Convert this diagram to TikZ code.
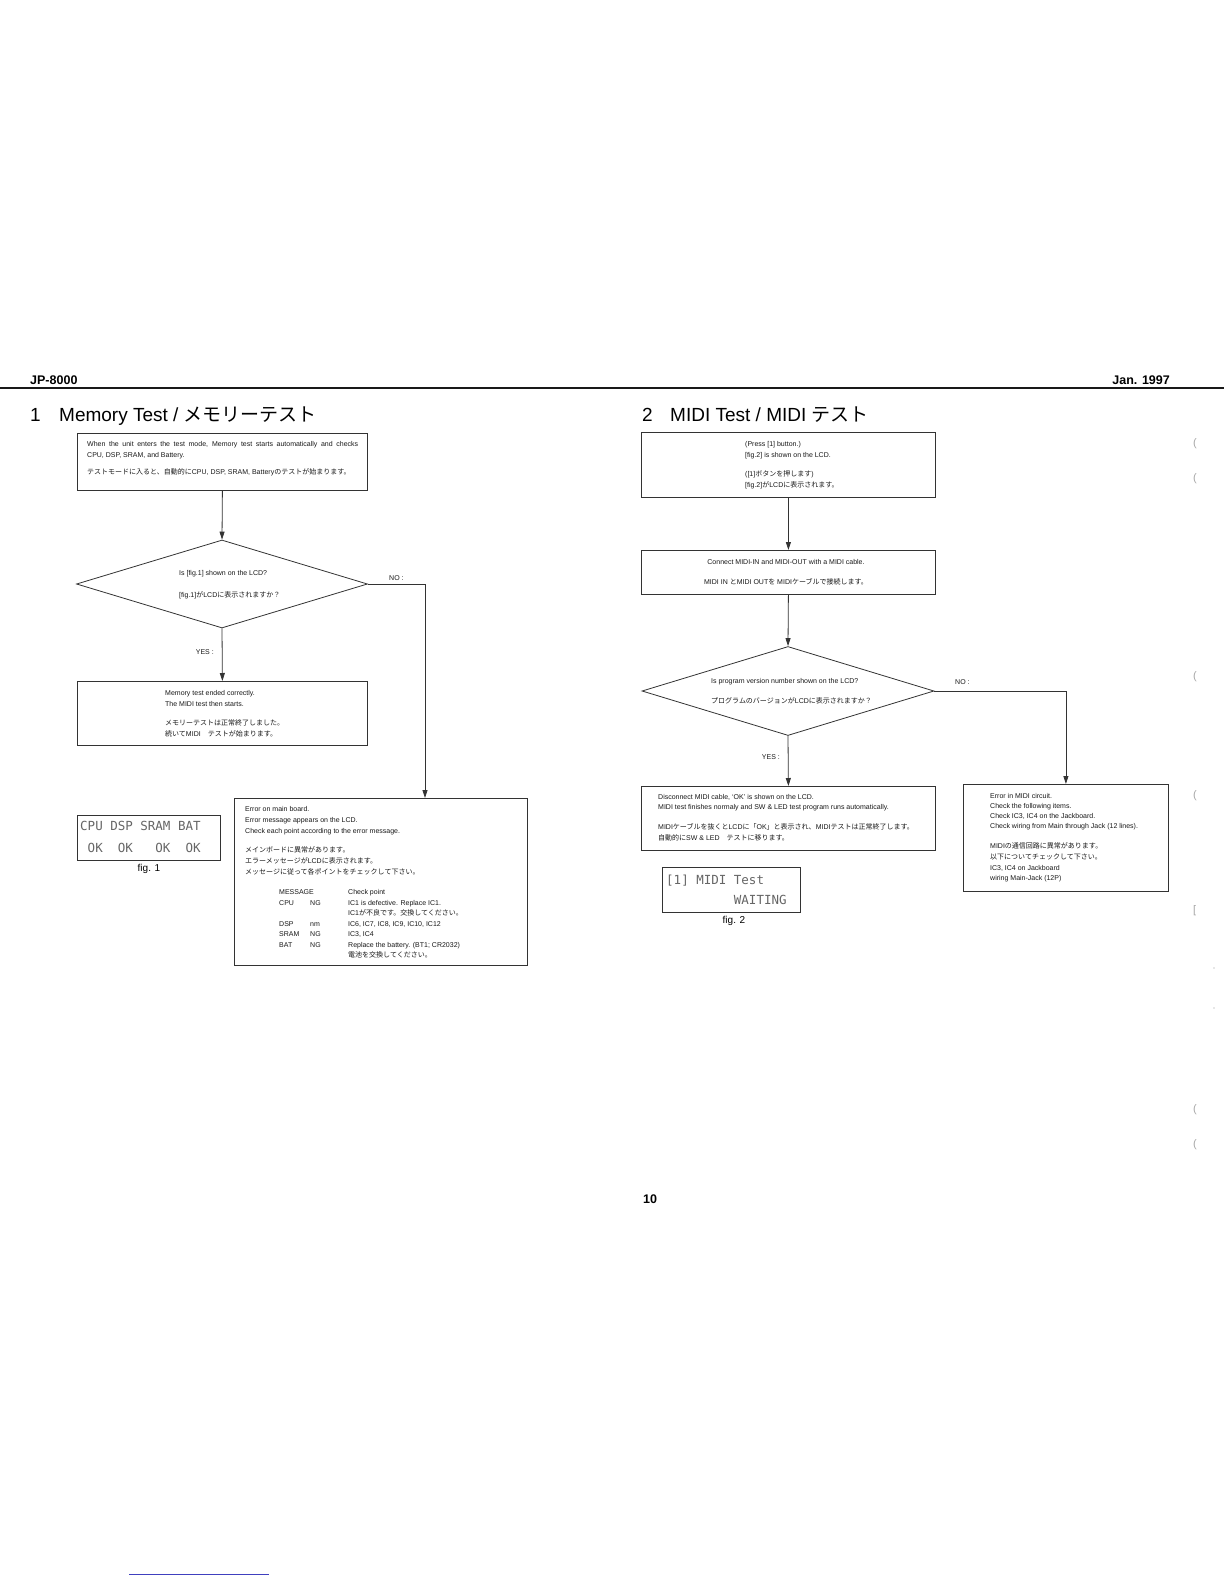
\documentclass[tikz,border=0pt]{standalone}
\usepackage{fontspec}
\setmainfont{Liberation Sans}
\newfontfamily\jp{Noto Sans CJK JP}
\newfontfamily\lcdfont{DejaVu Sans Mono}
\usetikzlibrary{shapes.geometric,arrows.meta}
\newcommand\tline[4]{\node[txt,anchor=base west] (#1) at (#2,#3) {#4};}
\begin{document}
\begin{tikzpicture}[x=1pt,y=-1pt,
  box/.style={draw=black!80,line width=0.8pt,rectangle,inner sep=0pt,anchor=north west},
  dia/.style={draw=black!80,line width=0.8pt,diamond,inner sep=0pt},
  txt/.style={inner sep=0pt,font=\fontsize{7}{9}\selectfont,text=black!90},
  flow/.style={draw=black!80,line width=0.8pt,-{Triangle[length=8pt,width=5pt]}},
  head/.style={inner sep=0pt,font=\fontsize{12.5}{14}\selectfont\bfseries,anchor=base west},
  title/.style={inner sep=0pt,font=\fontsize{19}{21}\selectfont,anchor=base west},
  lcd/.style={inner sep=0pt,font=\fontsize{12.5}{14}\lcdfont,text=black!60,anchor=base west},
  figcap/.style={inner sep=0pt,font=\fontsize{10}{12}\selectfont,anchor=base},
  scanmark/.style={inner sep=0pt,font=\fontsize{11}{12}\selectfont,text=black!35,anchor=base west}
]
\useasboundingbox (0,0) rectangle (1224,1584);
\fill[white] (0,0) rectangle (1224,1584);

% header
\node[head] (hl) at (30,384.5) {JP-8000};
\node[head,anchor=base east] (hr) at (1170,384.5) {Jan. 1997};
\draw[line width=2.4pt,black!90] (0,388) -- (1224,388);
\node[title] (t1n) at (30,421) {1};
\node[title] (t1) at (59,421) {Memory Test / {\jp メモリーテスト}};
\node[title] (t2n) at (642,421) {2};
\node[title] (t2) at (670,421) {MIDI Test / MIDI {\jp テスト}};

% ---------- left flow ----------
\node[box,minimum width=290pt,minimum height=57pt] (b1) at (77,433) {};
\tline{b1a}{87}{446}{\makebox[271pt][s]{When the unit enters the test mode, Memory test starts automatically and checks}}
\tline{b1b}{87}{457}{CPU, DSP, SRAM, and Battery.}
\tline{b1c}{87}{474}{{\jp テストモードに入ると、自動的に}CPU, DSP, SRAM, Battery{\jp のテストが始まります。}}

\node[dia,minimum width=291pt,minimum height=88pt] (d1) at (222,584) {};
\tline{d1a}{179}{575.5}{Is [fig.1] shown on the LCD?}
\tline{d1b}{179}{597.5}{[fig.1]{\jp が}LCD{\jp に表示されますか？}}
\tline{no1}{389}{580.5}{NO :}
\node[txt,anchor=base east] (yes1) at (214,654.5) {YES :};

\node[box,minimum width=290pt,minimum height=64pt] (b2) at (77,681) {};
\tline{b2a}{165}{695.5}{Memory test ended correctly.}
\tline{b2b}{165}{706.5}{The MIDI test then starts.}
\tline{b2c}{165}{725.5}{{\jp メモリーテストは正常終了しました。}}
\tline{b2d}{165}{736.5}{{\jp 続いて}MIDI{\jp 　テストが始まります。}}

\node[box,minimum width=143pt,minimum height=45pt] (lcd1) at (77,815) {};
\node[lcd] (lcd1a) at (80,830.5) {CPU~DSP~SRAM~BAT};
\node[lcd] (lcd1b) at (80,852.5) {~OK~~OK~~~OK~~OK};
\node[figcap] (fig1) at (149,871) {fig. 1};

\node[box,minimum width=293pt,minimum height=167pt] (e1) at (234,798) {};
\tline{e1a}{245}{811}{Error on main board.}
\tline{e1b}{245}{822}{Error message appears on the LCD.}
\tline{e1c}{245}{833}{Check each point according to the error message.}
\tline{e1d}{245}{852}{{\jp メインボードに異常があります。}}
\tline{e1e}{245}{863}{{\jp エラーメッセージが}LCD{\jp に表示されます。}}
\tline{e1f}{245}{874}{{\jp メッセージに従って各ポイントをチェックして下さい。}}
\tline{e1g}{279}{894.5}{MESSAGE}
\tline{e1h}{348}{894.5}{Check point}
\tline{e1i}{279}{905}{CPU}
\tline{e1j}{310}{905}{NG}
\tline{e1k}{348}{905}{IC1 is defective. Replace IC1.}
\tline{e1l}{348}{915.5}{IC1{\jp が不良です。交換してください。}}
\tline{e1m}{279}{926}{DSP}
\tline{e1n}{310}{926}{nm}
\tline{e1o}{348}{926}{IC6, IC7, IC8, IC9, IC10, IC12}
\tline{e1p}{279}{936.5}{SRAM}
\tline{e1q}{310}{936.5}{NG}
\tline{e1r}{348}{936.5}{IC3, IC4}
\tline{e1s}{279}{947}{BAT}
\tline{e1t}{310}{947}{NG}
\tline{e1u}{348}{947}{Replace the battery. (BT1; CR2032)}
\tline{e1v}{348}{957.5}{{\jp 電池を交換してください。}}

\draw[flow] (b1.south) -- (d1.north);
\draw[flow] (d1.south) -- (b2.north);
\draw[flow] (d1.east) -| ([xshift=191pt]e1.north west);

% ---------- right flow ----------
\node[box,minimum width=294pt,minimum height=65pt] (r1) at (641,432) {};
\tline{r1a}{745}{446.5}{(Press [1] button.)}
\tline{r1b}{745}{457.5}{[fig.2] is shown on the LCD.}
\tline{r1c}{745}{476.5}{([1]{\jp ボタンを押します})}
\tline{r1d}{745}{487.5}{[fig.2]{\jp が}LCD{\jp に表示されます。}}

\node[box,minimum width=294pt,minimum height=44pt] (r2) at (641,550) {};
\node[txt,anchor=base] (r2a) at (786,564.5) {Connect MIDI-IN and MIDI-OUT with a MIDI cable.};
\node[txt,anchor=base] (r2b) at (786,584.5) {MIDI IN {\jp と}MIDI OUT{\jp を} MIDI{\jp ケーブルで接続します。}};

\node[dia,minimum width=292pt,minimum height=89pt] (d2) at (788,691) {};
\tline{d2a}{711}{683.5}{Is program version number shown on the LCD?}
\tline{d2b}{711}{703.5}{{\jp プログラムのバージョンが}LCD{\jp に表示されますか？}}
\tline{no2}{955}{684.5}{NO :}
\node[txt,anchor=base east] (yes2) at (780,759.5) {YES :};

\node[box,minimum width=294pt,minimum height=64pt] (r3) at (641,786) {};
\tline{r3a}{658}{799.5}{Disconnect MIDI cable, `OK' is shown on the LCD.}
\tline{r3b}{658}{809.5}{MIDI test finishes normaly and SW \& LED test program runs automatically.}
\tline{r3c}{658}{829.5}{MIDI{\jp ケーブルを抜くと}LCD{\jp に「}OK{\jp 」と表示され、}MIDI{\jp テストは正常終了します。}}
\tline{r3d}{658}{840.5}{{\jp 自動的に}SW \& LED{\jp 　テストに移ります。}}

\node[box,minimum width=205pt,minimum height=107pt] (em) at (963,784) {};
\tline{ema}{990}{798.5}{Error in MIDI circuit.}
\tline{emb}{990}{808.5}{Check the following items.}
\tline{emc}{990}{818.5}{Check IC3, IC4 on the Jackboard.}
\tline{emd}{990}{828.5}{Check wiring from Main through Jack (12 lines).}
\tline{eme}{990}{848.5}{MIDI{\jp の通信回路に異常があります。}}
\tline{emf}{990}{859.5}{{\jp 以下についてチェックして下さい。}}
\tline{emg}{990}{870.5}{IC3, IC4 on Jackboard}
\tline{emh}{990}{880.5}{wiring Main-Jack (12P)}

\node[box,minimum width=138pt,minimum height=45pt] (lcd2) at (662,867) {};
\node[lcd] (lcd2a) at (666,884.5) {[1]~MIDI~Test};
\node[lcd] (lcd2b) at (666,904.5) {~~~~~~~~~WAITING};
\node[figcap] (fig2) at (734,923) {fig. 2};

\draw[flow] (r1.south) -- (r2.north);
\draw[flow] (r2.south) -- (d2.north);
\draw[flow] (d2.south) -- (r3.north);
\draw[flow] (d2.east) -| (em.north);

% page number
\node[head] (pg) at (643,1203.5) {10};

% scan marks at right margin and bottom
\node[scanmark] (m1) at (1193,446) {(};
\node[scanmark] (m2) at (1193,481) {(};
\node[scanmark] (m3) at (1193,679) {(};
\node[scanmark] (m4) at (1193,798) {(};
\node[scanmark] (m5) at (1193,913) {[};
\node[scanmark] (m6) at (1193,1112) {(};
\node[scanmark] (m7) at (1193,1147) {(};
\fill[black!40] (1214,968) circle (0.6);
\fill[black!40] (1214,1008) circle (0.6);
\draw[blue!50!gray,line width=0.6pt] (129,1574) -- (269,1574);
\end{tikzpicture}
\end{document}
